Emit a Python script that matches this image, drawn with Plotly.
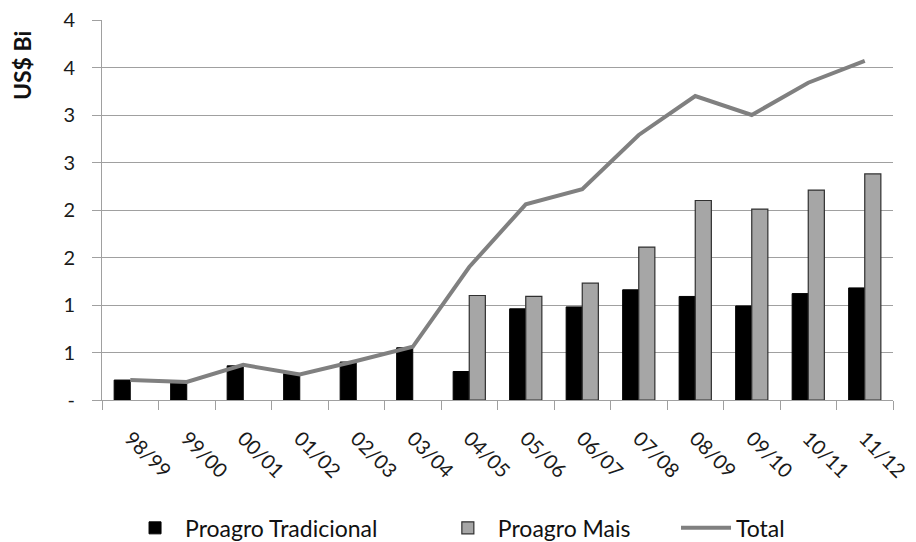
import plotly.graph_objects as go

categories = ["98/99", "99/00", "00/01", "01/02", "02/03", "03/04", "04/05",
              "05/06", "06/07", "07/08", "08/09", "09/10", "10/11", "11/12"]
tradicional = [0.21, 0.18, 0.36, 0.28, 0.40, 0.55, 0.30, 0.96, 0.98, 1.16, 1.09, 0.99, 1.12, 1.18]
mais = [None, None, None, None, None, None, 1.10, 1.09, 1.23, 1.61, 2.10, 2.01, 2.21, 2.38]
total = [0.21, 0.19, 0.37, 0.27, 0.41, 0.56, 1.40, 2.06, 2.22, 2.79, 3.20, 3.00, 3.34, 3.57]
ytickvals = [0, 0.5, 1, 1.5, 2, 2.5, 3, 3.5, 4]
yticktext = ["-", "1", "1", "2", "2", "3", "3", "4", "4"]

FONT = "Lato"

fig = go.Figure()
fig.add_trace(go.Bar(x=categories, y=tradicional, name="Proagro Tradicional", legend="legend",
                     marker=dict(color="#000000", line=dict(color="#000000", width=1))))
fig.add_trace(go.Bar(x=categories, y=mais, name="Proagro Mais", legend="legend2",
                     marker=dict(color="#a6a6a6", line=dict(color="#303030", width=1.2))))
fig.add_trace(go.Scatter(x=categories, y=total, name="Total", mode="lines", legend="legend3",
                         line=dict(color="#808080", width=4)))

leg_common = dict(orientation="h", xref="container", yref="container",
                  xanchor="left", y=0.026, yanchor="middle",
                  font=dict(size=23, family=FONT, color="#111111"), itemwidth=50)

fig.update_layout(
    width=916, height=542,
    margin=dict(l=102, r=23, t=20, b=142, autoexpand=False),
    paper_bgcolor="white", plot_bgcolor="white",
    font=dict(family=FONT, size=18, color="#1a1a1a"),
    barmode="group", bargap=0.43, bargroupgap=0,
    showlegend=True,
    legend=dict(x=0.1365, **leg_common),
    legend2=dict(x=0.478, **leg_common),
    legend3=dict(x=0.738, **leg_common),
    xaxis=dict(type="category", tickangle=45, showgrid=False, automargin=False,
               showline=True, linecolor="#a0a0a0", linewidth=1,
               ticks="outside", tickson="boundaries", ticklen=9, tickcolor="#a0a0a0",
               tickfont=dict(size=20, family=FONT), ticklabelstandoff=18),
    yaxis=dict(range=[0, 4], tickvals=ytickvals, ticktext=yticktext, automargin=False,
               showgrid=True, gridcolor="#a0a0a0", gridwidth=1,
               showline=True, linecolor="#a0a0a0", linewidth=1,
               ticks="outside", ticklen=9, tickcolor="#a0a0a0",
               tickfont=dict(size=20, family=FONT), zeroline=False,
               ticklabelstandoff=13),
    annotations=[dict(text="<b>US$ Bi</b>", xref="paper", yref="paper",
                      x=-0.101, y=0.975, xanchor="center", yanchor="top",
                      textangle=-90, showarrow=False,
                      font=dict(size=23, family=FONT, color="#111111"))],
)

fig.write_html("out.html", config={"displayModeBar": False},
               post_script="document.body.style.margin='0';")
